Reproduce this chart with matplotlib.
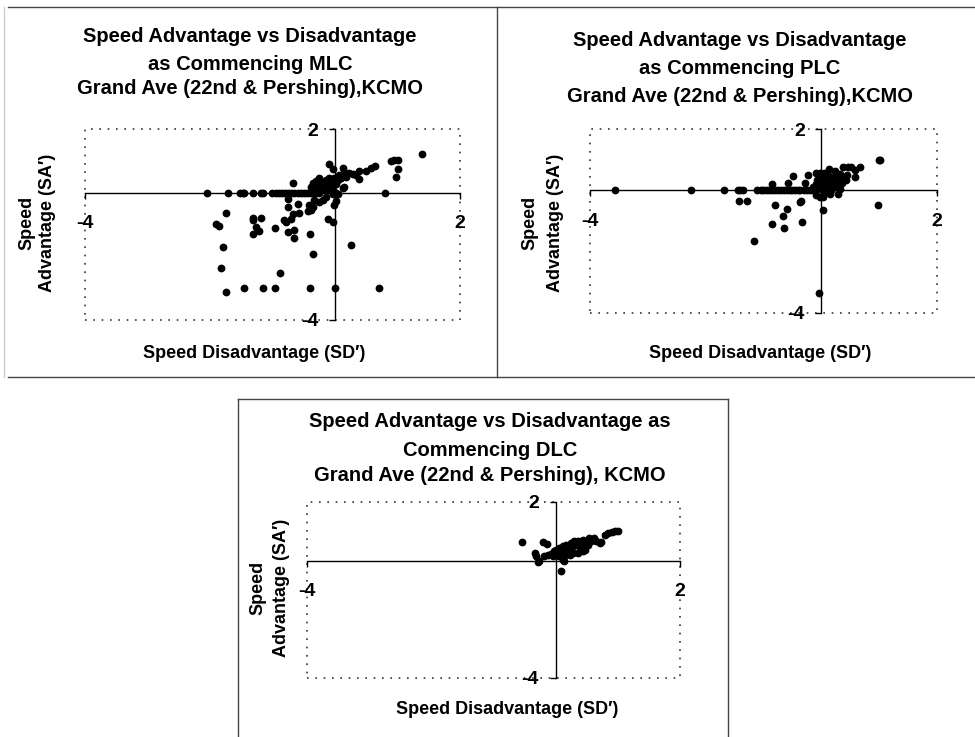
import numpy as np
import matplotlib.pyplot as plt
from matplotlib.lines import Line2D
from matplotlib.patches import Rectangle

plt.rcParams['font.family'] = ['Liberation Sans', 'DejaVu Sans']
plt.rcParams['font.weight'] = 'bold'

W, H = 975, 737

# ---- data (SD' on x, SA' on y) ----
# MLC
mlc_x = [-2.05, -1.71, -1.52, -1.47, -1.45, -1.32, -1.19, -1.15, -1.01, -0.95, -0.90, -0.85,
         -0.80, -0.75, -0.70, -0.65, -0.60, -0.55, -0.50, -0.45, -0.40, -0.35, -0.30, -0.26,
         -0.04, 0.01, 0.80,
         1.39, 0.89, 0.94, 1.00, 1.00, 0.97, 0.64, 0.57, 0.50, 0.38, 0.39, 0.28, 0.17, 0.12,
         0.14, 0.12, -0.09, -0.03, -0.68, 0.22, 0.33, 0.14,
         -0.39, -0.36, -0.30, -0.26, -0.27, -0.20, -0.15, -0.12, -0.09, -0.07, -0.04, -0.02,
         0.01, 0.04, 0.06, 0.09, -0.25, -0.18, -0.11, -0.04, -0.34,
         -0.42, -0.44, -0.39, -0.36, -0.34, -0.26, -0.20, -0.15, -0.02, 0.01, -0.04, 0.04,
         -0.76, -0.76, -0.60, -0.68, -0.58, -0.71, -0.82, -0.79, -0.76, -0.66, -0.66, -0.40,
         -0.35, -0.11, -0.03, 0.25, -0.96, -0.88,
         -1.32, -1.31, -1.19, -1.27, -1.22, -1.31,
         -1.75, -1.91, -1.86, -1.79, -1.83, -1.75,
         -1.46, -1.15, -0.96, -0.40, 0.00, 0.70]
mlc_y = [0.0] * 27 + \
        [1.20, 0.99, 1.02, 1.04, 0.73, 0.48, 0.84, 0.76, 0.68, 0.68, 0.43, 0.58, 0.50, 0.76,
         0.19, 0.14, 0.90, 0.73, 0.29, 0.61, 0.55, 0.66,
         0.19, 0.29, 0.37, 0.45, 0.24, 0.29, 0.40, 0.26, 0.45, 0.19, 0.35, 0.47,
         0.26, 0.40, 0.55, 0.45, 0.14, 0.12, 0.08, 0.08, 0.08,
         -0.39, -0.58, -0.54, -0.44, -0.23, -0.28, -0.23, -0.13, -0.39, -0.26, -0.05, -0.04,
         -0.20, -0.44, -0.36, -0.68, -0.65, -0.83, -0.86, -0.91, -1.23, -1.17, -1.41, -1.30,
         -1.94, -0.83, -0.93, -1.64, -1.12, -2.53,
         -0.79, -0.86, -0.81, -1.07, -1.20, -1.30,
         -0.65, -0.98, -1.05, -1.72, -2.36, -3.11,
         -3.0, -3.0, -3.0, -3.0, -3.0, -3.0]

# PLC
plc_x = [-3.56, -2.25, -1.68, -1.44, -1.40, -1.36, -1.12, -1.05, -1.00, -0.95, -0.90, -0.85,
         -0.80, -0.75, -0.70, -0.65, -0.60, -0.55, -0.50, -0.45, -0.40, -0.37, -0.30, -0.25,
         -0.20, -0.15, -0.10,
         1.00, 1.02, 0.98, 0.03, -0.04, -1.16, -0.85, -0.65, -0.67, -0.59, -0.80, -1.43, -1.28,
         -0.37, -0.35, -0.33, -0.85, -0.58, -0.49, -0.29, -0.23, -0.09, -0.03, 0.04, 0.14, 0.23,
         0.32, 0.37, 0.46, 0.52, 0.58, 0.66, 0.58, 0.43, 0.29, -0.09, -0.03, 0.03,
         -0.12, -0.10, -0.08, -0.05, -0.02, 0.00, 0.02, 0.04, 0.06, 0.08, 0.10, 0.12, 0.14,
         0.16, 0.18, 0.20, 0.22, 0.25, 0.28, 0.30, 0.32, 0.35, 0.40, 0.45, 0.15, 0.05, -0.15,
         0.12, 0.08]
plc_y = [0.0] * 27 + \
        [1.00, 1.00, -0.49, -0.65, -3.35, -1.65, -1.10, -1.22, -0.85, -0.60, -0.49, -0.36, -0.36,
         -0.38, -0.35, -1.03, 0.20, 0.25, 0.46, 0.25, 0.49, 0.55, 0.57, 0.58, 0.71, 0.63,
         0.54, 0.76, 0.76, 0.76, 0.65, 0.76, 0.43, 0.33, -0.11, -0.16, -0.22, -0.22,
         0.05, 0.20, 0.35, 0.12, 0.25, 0.40, 0.05, 0.18, 0.30, -0.05, 0.10, 0.22, 0.38,
         0.02, 0.15, 0.28, 0.45, 0.10, 0.20, 0.35, 0.05, 0.25, 0.45, 0.50, -0.12, -0.10, 0.10,
         0.50, 0.45]

# DLC
dlc_x = [-0.54, -0.21, -0.14, -0.34, -0.31, -0.27, -0.28, 0.09, 0.12, 0.14,
         -0.18, -0.12, -0.07, -0.03, 0.01, 0.04, 0.06, 0.09, 0.12, 0.14, 0.17, 0.20, 0.24,
         0.27, 0.29, 0.32, 0.36, 0.39, 0.41, 0.44, 0.47, 0.49, 0.54, 0.57, 0.61, 0.65, 0.71,
         0.73, 0.79, 0.84, 0.90, 0.95, 1.00, 0.28, 0.23, 0.14, 0.06, -0.04, 0.44, 0.36, 0.52]
dlc_y = [0.64, 0.64, 0.58, 0.26, 0.15, 0.00, -0.05, -0.36, 0.03, -0.02,
         0.17, 0.20, 0.23, 0.32, 0.38, 0.23, 0.43, 0.30, 0.49, 0.34, 0.55, 0.41, 0.60,
         0.45, 0.66, 0.52, 0.66, 0.32, 0.55, 0.72, 0.38, 0.66, 0.77, 0.68, 0.77, 0.66, 0.60,
         0.64, 0.89, 0.94, 0.98, 1.00, 1.00, 0.26, 0.20, 0.15, 0.15, 0.15, 0.32, 0.26, 0.55]

titles = [["Speed Advantage vs Disadvantage", "as Commencing MLC",
           "Grand Ave (22nd & Pershing),KCMO"],
          ["Speed Advantage vs Disadvantage", "as Commencing PLC",
           "Grand Ave (22nd & Pershing),KCMO"],
          ["Speed Advantage vs Disadvantage as", "Commencing DLC",
           "Grand Ave (22nd & Pershing), KCMO"]]
xlabel = "Speed Disadvantage (SD\u2032)"
ylabel = ["Speed", "Advantage (SA\u2032)"]

fig = plt.figure(figsize=(W / 100, H / 100), dpi=100)


def fx(px):
    return px / W


def fy(py):
    return 1 - py / H


# panel layout in pixels: plot box (left, top, right, bottom), title centre, line ys,
# x label pos, y label x positions, y label centre
panels = [
    dict(box=(85, 129, 460, 320), tx=250, ty=(37, 64, 88), xl=(254, 354), yl=(27, 48, 223),
         x=mlc_x, y=mlc_y),
    dict(box=(590, 129, 937, 313), tx=740, ty=(40, 69, 96), xl=(760, 354), yl=(530, 556, 223),
         x=plc_x, y=plc_y),
    dict(box=(307, 502, 680, 678), tx=490, ty=(422, 450, 476), xl=(507, 709), yl=(258, 282, 588),
         x=dlc_x, y=dlc_y),
]

for p, tl in zip(panels, titles):
    l, t, r, b = p['box']
    ax = fig.add_axes([fx(l), fy(b), fx(r - l), (b - t) / H])
    ax.set_xlim(-4, 2)
    ax.set_ylim(-4, 2)
    ax.plot(p['x'], p['y'], 'o', color='black', ms=4.6, mec='black', clip_on=False, zorder=3)

    # axes crossing at zero
    for s in ['top', 'right']:
        ax.spines[s].set_visible(False)
    ax.spines['left'].set_position(('data', 0))
    ax.spines['bottom'].set_position(('data', 0))
    ax.spines['left'].set_linewidth(1.0)
    ax.spines['bottom'].set_linewidth(1.0)
    ax.set_xticks([-4, 2])
    ax.set_yticks([-4, 2])
    ax.set_xticklabels(['-4', '2'])
    ax.set_yticklabels(['-4', '2'])
    ax.tick_params(axis='y', direction='out', length=4, width=1, pad=8, labelsize=14)
    ax.tick_params(axis='x', direction='out', length=4, width=1, pad=12, labelsize=14)
    for lab in ax.get_xticklabels() + ax.get_yticklabels():
        lab.set_fontweight('bold')
    ax.patch.set_visible(False)

    # dotted plot-area border
    ax.add_patch(Rectangle((0, 0), 1, 1, transform=ax.transAxes, fill=False,
                           ec='#333333', lw=1.2, ls=(0, (1, 4)), clip_on=False))

    for txt, yy in zip(tl, p['ty']):
        fig.text(fx(p['tx']), fy(yy), txt, ha='center', va='center', fontsize=14.5,
                 fontweight='bold')
    fig.text(fx(p['xl'][0]), fy(p['xl'][1]), xlabel, ha='center', va='center',
             fontsize=13, fontweight='bold')
    fig.text(fx(p['yl'][0]), fy(p['yl'][2]), ylabel[0], ha='center', va='center',
             rotation=90, fontsize=13, fontweight='bold')
    fig.text(fx(p['yl'][1]), fy(p['yl'][2]), ylabel[1], ha='center', va='center',
             rotation=90, fontsize=13, fontweight='bold')

# frame lines around the panels
frame = [((8, 975), (7, 7), '#444444'), ((8, 975), (377, 377), '#444444'),
         ((497, 497), (7, 377), '#444444'), ((4, 4), (7, 377), '#cccccc'),
         ((238, 728), (399, 399), '#444444'), ((238, 238), (399, 737), '#444444'),
         ((728, 728), (399, 737), '#444444')]
for xs, ys, c in frame:
    fig.add_artist(Line2D([fx(v) for v in xs], [fy(v) for v in ys], color=c,
                          lw=1.0, transform=fig.transFigure))

fig.savefig('out.png', dpi=100, facecolor='white')
